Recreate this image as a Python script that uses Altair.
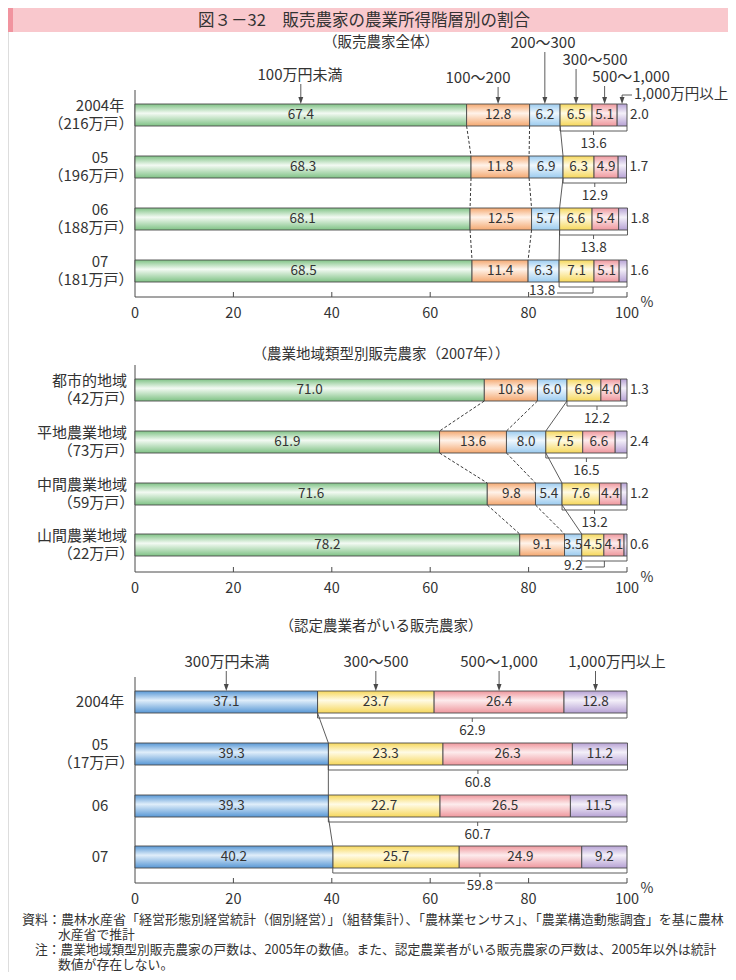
import altair as alt
import pandas as pd

# ---------------- data ----------------
TITLE = "図３－32　販売農家の農業所得階層別の割合"
SUBTITLES = ["（販売農家全体）", "（農業地域類型別販売農家（2007年））", "（認定農業者がいる販売農家）"]

classes_all = ["100万円未満", "100～200", "200～300", "300～500", "500～1,000", "1,000万円以上"]

rows1 = ["2004年", "05", "06", "07"]
counts1 = ["（216万戸）", "（196万戸）", "（188万戸）", "（181万戸）"]
shares1 = [
    [67.4, 12.8, 6.2, 6.5, 5.1, 2.0],
    [68.3, 11.8, 6.9, 6.3, 4.9, 1.7],
    [68.1, 12.5, 5.7, 6.6, 5.4, 1.8],
    [68.5, 11.4, 6.3, 7.1, 5.1, 1.6],
]
over300_1 = [13.6, 12.9, 13.8, 13.8]

rows2 = ["都市的地域", "平地農業地域", "中間農業地域", "山間農業地域"]
counts2 = ["（42万戸）", "（73万戸）", "（59万戸）", "（22万戸）"]
shares2 = [
    [71.0, 10.8, 6.0, 6.9, 4.0, 1.3],
    [61.9, 13.6, 8.0, 7.5, 6.6, 2.4],
    [71.6, 9.8, 5.4, 7.6, 4.4, 1.2],
    [78.2, 9.1, 3.5, 4.5, 4.1, 0.6],
]
over300_2 = [12.2, 16.5, 13.2, 9.2]

classes3 = ["300万円未満", "300～500", "500～1,000", "1,000万円以上"]
rows3 = ["2004年", "05", "06", "07"]
counts3 = ["", "（17万戸）", "", ""]
shares3 = [
    [37.1, 23.7, 26.4, 12.8],
    [39.3, 23.3, 26.3, 11.2],
    [39.3, 22.7, 26.5, 11.5],
    [40.2, 25.7, 24.9, 9.2],
]
over300_3 = [62.9, 60.8, 60.7, 59.8]

tick_values = [0, 20, 40, 60, 80, 100]

NOTES = [
    "資料：農林水産省「経営形態別経営統計（個別経営）」（組替集計）、「農林業センサス」、「農業構造動態調査」を基に農林",
    "水産省で推計",
    "注：農業地域類型別販売農家の戸数は、2005年の数値。また、認定農業者がいる販売農家の戸数は、2005年以外は統計",
    "数値が存在しない。",
]

# ---------------- layout ----------------
W, H = 720, 964
M = 8
X0, X100 = 135.0, 627.0
PX = (X100 - X0) / 100.0
XMIN = (M - X0) / PX
XMAX = (M + W - X0) / PX


def px(page_x):
    return (page_x - X0) / PX


def py(page_y):
    return page_y - M


def dx(pixels):
    return pixels / PX


BAR_H = 22
FONT = "Noto Sans CJK JP"
TXT = "#333333"
LINE = "#4a4a4a"

COLORS = {
    "green": ("#7fc285", "#f3faf3"),
    "orange": ("#f4a870", "#fff3ea"),
    "sky": ("#9bcbef", "#f0f8fe"),
    "yellow": ("#f6d75a", "#fffbe6"),
    "pink": ("#ef979d", "#fdeced"),
    "purple": ("#b6a1d4", "#f4f0f9"),
    "blue": ("#5797d5", "#e0eefa"),
}

panels = [
    dict(rows=rows1, counts=counts1, shares=shares1, sums=over300_1, classes=classes_all,
         keys=["green", "orange", "sky", "yellow", "pink", "purple"],
         centers=[115, 167, 219, 271], axis_y=297, axis_top=90, sub=SUBTITLES[0], sub_y=43,
         dashed=[1, 2], solid=[3], brace_from=3, outside_last=True, label_style="p1",
         headers=[(300, 75, "header_c"), (478, 78, "header_c"), (543, 43, "header_c"),
                  (595, 60, "header_c"), (631, 77, "header_c"), (634, 95, "header_l")],
         special=dict(mode="left", label_dx=-51, label_y=291, leader_y=293, half=13)),
    dict(rows=rows2, counts=counts2, shares=shares2, sums=over300_2, classes=classes_all,
         keys=["green", "orange", "sky", "yellow", "pink", "purple"],
         centers=[390, 442, 494, 545], axis_y=572, axis_top=365, sub=SUBTITLES[1], sub_y=355,
         dashed=[1, 2], solid=[3], brace_from=3, outside_last=True, label_style="p2",
         headers=[],
         special=dict(mode="left", label_dx=-31, label_y=566, leader_y=567, half=10)),
    dict(rows=rows3, counts=counts3, shares=shares3, sums=over300_3, classes=classes3,
         keys=["blue", "yellow", "pink", "purple"],
         centers=[702, 754, 806, 857], axis_y=883, axis_top=677, sub=SUBTITLES[2], sub_y=627,
         dashed=[], solid=[1], brace_from=1, outside_last=False, label_style="p3",
         headers=[(227, 662, "header_c"), (376, 662, "header_c"), (499, 662, "header_c"),
                  (617, 662, "header_c")],
         special=dict(mode="box")),
]

rect_rows = []
rules = {"axis": [], "thin": [], "dash": []}
texts = {}
heads = []
boxes = []


def add_text(style, x, y, t):
    texts.setdefault(style, []).append(dict(x=x, y=y, t=t))


def add_rule(style, x, y, x2, y2):
    rules[style].append(dict(x=x, y=y, x2=x2, y2=y2))


# title & notes
add_text("title", px(364), py(20.5), TITLE)
note_specs = [(22, 920, "note1"), (58, 935, "note2"), (35, 950, "note3"), (58, 965, "note2")]
for (nx, ny, st), line in zip(note_specs, NOTES):
    add_text(st, px(nx), py(ny), line)

for P in panels:
    n = len(P["rows"])
    cums = []
    for vals in P["shares"]:
        c = [0.0]
        for v in vals:
            c.append(round(c[-1] + v, 4))
        cums.append(c)

    add_text("sub", px(381), py(P["sub_y"]), P["sub"])

    ay = py(P["axis_y"])
    add_rule("axis", 0, py(P["axis_top"]), 0, ay)
    add_rule("axis", 0, ay, 100, ay)
    for t in tick_values:
        if t > 0:
            add_rule("axis", t, ay - 5, t, ay)
        add_text("tick", t, ay + 17, str(t))
    add_text("pct", px(647), ay + 6, "%")

    for r in range(n):
        c_page = P["centers"][r]
        top = py(c_page - BAR_H / 2)
        bot = py(c_page + BAR_H / 2)
        mid_y = py(c_page)
        vals = P["shares"][r]
        cum = cums[r]
        for k, v in enumerate(vals):
            rect_rows.append(dict(key=P["keys"][k], x=cum[k], x2=cum[k + 1], y=top, y2=bot))
            label = f"{v:.1f}"
            if P["outside_last"] and k == len(vals) - 1:
                add_text("val_l", cum[k + 1] + dx(3), mid_y, label)
            else:
                add_text("val_c", (cum[k] + cum[k + 1]) / 2, mid_y, label)

        # row labels
        name, cnt = P["rows"][r], P["counts"][r]
        if P["label_style"] == "p1":
            add_text("row_c", px(100), mid_y - 9, name)
            add_text("row_c", px(91), mid_y + 9, cnt)
        elif P["label_style"] == "p2":
            add_text("row_r", px(127), mid_y - 9, name)
            add_text("row_c", px(96), mid_y + 9, cnt)
        else:
            if cnt:
                add_text("row_c", px(100), mid_y - 9, name)
                add_text("row_c", px(96), mid_y + 9, cnt)
            else:
                add_text("row_c", px(100), mid_y, name)

        # brace for 300万円以上 share
        b0 = cum[P["brace_from"]]
        b1 = cum[-1]
        bm = (b0 + b1) / 2
        add_rule("thin", b0, bot, b0, bot + 5)
        add_rule("thin", b1, bot, b1, bot + 5)
        add_rule("thin", b0, bot + 5, b1, bot + 5)
        sum_label = f"{P['sums'][r]:.1f}"
        sp = P["special"] if r == n - 1 else None
        if sp is not None and sp["mode"] == "left":
            lx = bm + dx(sp["label_dx"])
            add_rule("thin", bm, bot + 5, bm, py(sp["leader_y"]))
            add_rule("thin", lx + dx(sp["half"] + 2), py(sp["leader_y"]), bm, py(sp["leader_y"]))
            add_text("sum", lx, py(sp["label_y"]), sum_label)
        else:
            add_rule("thin", bm, bot + 5, bm, bot + 9)
            if sp is not None and sp["mode"] == "box":
                boxes.append(dict(x=bm - dx(15), x2=bm + dx(15), y=bot + 12, y2=bot + 23))
            add_text("sum", bm, bot + 18, sum_label)

    # connectors between consecutive bars
    for r in range(n - 1):
        bot = py(P["centers"][r] + BAR_H / 2)
        top_next = py(P["centers"][r + 1] - BAR_H / 2)
        for k in P["dashed"]:
            add_rule("dash", cums[r][k], bot, cums[r + 1][k], top_next)
        for k in P["solid"]:
            add_rule("thin", cums[r][k], bot, cums[r + 1][k], top_next)

    # class headers with arrows
    for k, (tx, ty, st) in enumerate(P["headers"]):
        ax = (cums[0][k] + cums[0][k + 1]) / 2
        tip = py(P["centers"][0] - BAR_H / 2)
        add_text(st, px(tx), py(ty), P["classes"][k])
        if st == "header_l":
            add_rule("thin", ax, py(ty), px(tx - 2), py(ty))
            add_rule("thin", ax, py(ty), ax, tip - 4)
        else:
            add_rule("thin", ax, py(ty) + 9, ax, tip - 4)
        heads.append(dict(x=ax, y=tip))

# ---------------- chart ----------------
XS = alt.Scale(domain=[XMIN, XMAX], nice=False, zero=False)
YS = alt.Scale(domain=[0, H], reverse=True, nice=False, zero=False)


def xy_enc(with2=True):
    e = dict(x=alt.X("x:Q", scale=XS, axis=None), y=alt.Y("y:Q", scale=YS, axis=None))
    if with2:
        e["x2"] = alt.X2("x2:Q")
        e["y2"] = alt.Y2("y2:Q")
    return e


def grad(dark, light):
    return alt.LinearGradient(
        gradient="linear", x1=0, x2=0, y1=0, y2=1,
        stops=[alt.GradientStop(color=dark, offset=0),
               alt.GradientStop(color=light, offset=0.42),
               alt.GradientStop(color=dark, offset=1)])


layers = []

# title bar
title_bar = pd.DataFrame([dict(x=XMIN, x2=XMAX, y=0, y2=py(32))])
title_strip = pd.DataFrame([dict(x=XMIN, x2=px(13), y=0, y2=py(32))])
layers.append(alt.Chart(title_bar).mark_rect(fill="#f9c8cd").encode(**xy_enc()))
layers.append(alt.Chart(title_strip).mark_rect(fill="#f1949f").encode(**xy_enc()))

# axes
layers.append(alt.Chart(pd.DataFrame(rules["axis"])).mark_rule(color=LINE, strokeWidth=1).encode(**xy_enc()))

# bars
rect_df = pd.DataFrame(rect_rows)
for key, (dark, light) in COLORS.items():
    sub = rect_df[rect_df["key"] == key]
    if len(sub) == 0:
        continue
    layers.append(alt.Chart(sub).mark_rect(fill=grad(dark, light), stroke=LINE, strokeWidth=0.9)
                  .encode(**xy_enc()))

# connectors / braces / arrows
layers.append(alt.Chart(pd.DataFrame(rules["dash"])).mark_rule(color="#3a3a3a", strokeWidth=1, strokeDash=[3, 2])
              .encode(**xy_enc()))
layers.append(alt.Chart(pd.DataFrame(rules["thin"])).mark_rule(color=LINE, strokeWidth=0.9)
              .encode(**xy_enc()))
layers.append(alt.Chart(pd.DataFrame(boxes)).mark_rect(fill="white").encode(**xy_enc()))
layers.append(alt.Chart(pd.DataFrame(heads)).mark_point(
    shape="M-0.7,-2L0.7,-2L0,0Z", size=49, filled=True, color=LINE, opacity=1, strokeWidth=0)
    .encode(**xy_enc(False)))

TEXT_STYLES = {
    "title": dict(fontSize=16.5, align="center"),
    "sub": dict(fontSize=14.5, align="center"),
    "row_c": dict(fontSize=15, align="center"),
    "row_r": dict(fontSize=15, align="right"),
    "header_c": dict(fontSize=15, align="center"),
    "header_l": dict(fontSize=14.5, align="left"),
    "val_c": dict(fontSize=13.5, align="center"),
    "val_l": dict(fontSize=13.5, align="left"),
    "sum": dict(fontSize=13.5, align="center"),
    "tick": dict(fontSize=14.5, align="center"),
    "pct": dict(fontSize=14, align="center"),
    "note1": dict(fontSize=13.0, align="left"),
    "note2": dict(fontSize=12.8, align="left"),
    "note3": dict(fontSize=12.75, align="left"),
}

for st, rows in texts.items():
    props = TEXT_STYLES[st]
    layers.append(alt.Chart(pd.DataFrame(rows)).mark_text(
        font=FONT, color=TXT, baseline="middle", **props).encode(text="t:N", **xy_enc(False)))

chart = alt.layer(*layers).properties(
    width=W, height=H, padding=0,
    autosize=alt.AutoSizeParams(type="none"),
).configure_view(stroke=None).configure(background="white")

chart.save("out.html", embed_options={"renderer": "svg", "actions": False})
